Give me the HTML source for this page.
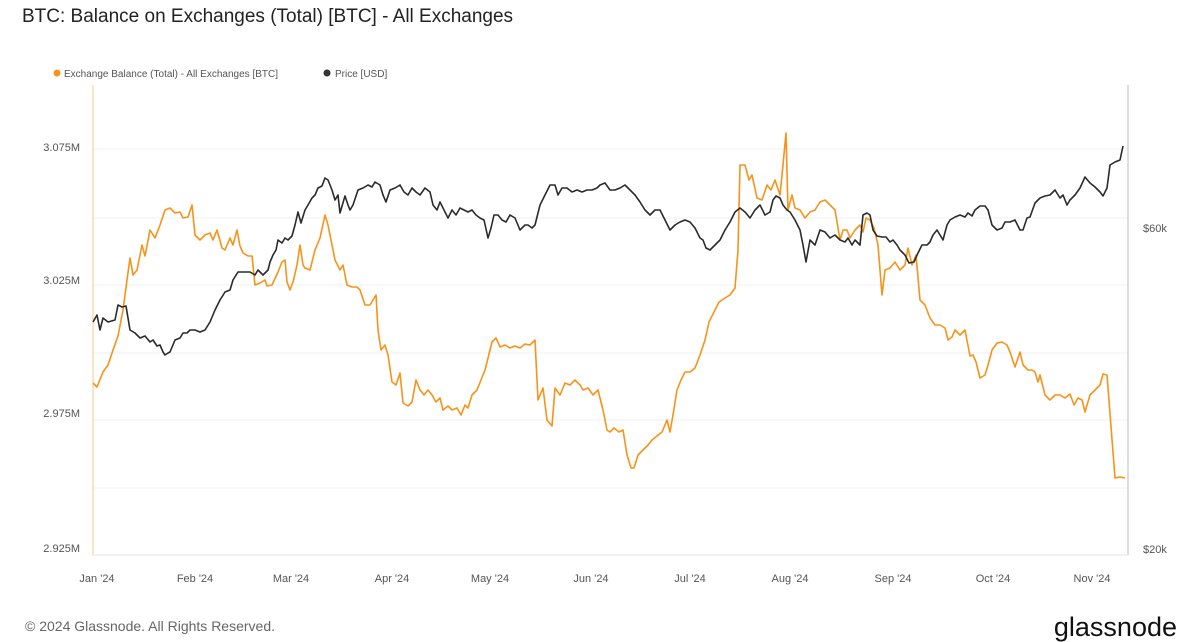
<!DOCTYPE html>
<html><head><meta charset="utf-8"><style>
html,body{margin:0;padding:0;background:#fff;width:1200px;height:642px;overflow:hidden;font-family:"Liberation Sans",sans-serif}
</style></head><body>
<svg width="1200" height="642" viewBox="0 0 1200 642" xmlns="http://www.w3.org/2000/svg" font-family="Liberation Sans, sans-serif">
<text x="22" y="22" font-size="19" fill="#222">BTC: Balance on Exchanges (Total) [BTC] - All Exchanges</text>
<circle cx="57" cy="73" r="3.5" fill="#f7931a"/>
<text x="64" y="77" font-size="10" fill="#555">Exchange Balance (Total) - All Exchanges [BTC]</text>
<circle cx="327" cy="73" r="3.5" fill="#333"/>
<text x="335" y="77" font-size="10" fill="#555">Price [USD]</text>
<g stroke="#f0f0f0" stroke-width="1">
<line x1="93" y1="149" x2="1128" y2="149"/><line x1="93" y1="218" x2="1128" y2="218"/>
<line x1="93" y1="285" x2="1128" y2="285"/><line x1="93" y1="353" x2="1128" y2="353"/>
<line x1="93" y1="420" x2="1128" y2="420"/><line x1="93" y1="488" x2="1128" y2="488"/>
</g>
<line x1="93" y1="85" x2="93" y2="555" stroke="#f7c98a" stroke-width="1"/>
<line x1="1128" y1="85" x2="1128" y2="555" stroke="#bbb" stroke-width="1"/>
<line x1="93" y1="555" x2="1128" y2="555" stroke="#e6e6e6" stroke-width="1"/>
<g font-size="11" fill="#555">
<text x="80" y="151" text-anchor="end">3.075M</text>
<text x="80" y="284" text-anchor="end">3.025M</text>
<text x="80" y="417" text-anchor="end">2.975M</text>
<text x="80" y="552" text-anchor="end">2.925M</text>
<text x="1143" y="232">$60k</text>
<text x="1143" y="553">$20k</text>
<g text-anchor="middle">
<text x="97" y="582">Jan '24</text><text x="195" y="582">Feb '24</text><text x="291" y="582">Mar '24</text>
<text x="392" y="582">Apr '24</text><text x="490" y="582">May '24</text><text x="591" y="582">Jun '24</text>
<text x="690" y="582">Jul '24</text><text x="790" y="582">Aug '24</text><text x="893" y="582">Sep '24</text>
<text x="993" y="582">Oct '24</text><text x="1092" y="582">Nov '24</text>
</g></g>
<polyline fill="none" stroke="#f7931a" stroke-width="1.6" stroke-linejoin="round" points="93,383 97,387 103,372 108,365 113,350 118,336 123,310 127,280 130,258 133,275 137,270 142,245 145,256 150,230 155,238 160,225 165,210 170,208 175,213 180,212 183,218 188,217 192,205 195,235 200,240 205,235 210,233 213,240 217,230 222,248 225,250 230,238 233,245 237,230 240,246 243,253 248,256 252,256 255,285 260,283 265,280 267,286 272,285 278,272 282,262 285,260 287,282 290,290 293,282 297,265 300,245 303,265 305,268 310,270 315,250 320,238 325,215 328,225 332,245 335,260 340,270 343,265 347,285 352,287 357,287 360,290 365,305 370,305 373,300 376,295 378,330 381,350 385,345 388,355 392,382 396,385 400,373 403,403 408,406 412,402 416,380 420,390 424,395 428,390 432,395 436,402 440,398 443,410 448,406 452,410 457,408 461,415 465,405 468,408 472,395 477,390 481,380 485,370 488,358 492,342 496,338 500,347 505,345 510,348 515,346 520,348 525,344 530,345 535,340 538,400 543,388 547,420 552,426 555,388 560,395 565,383 570,385 575,380 580,385 583,390 588,388 593,395 598,390 603,410 607,430 610,432 614,428 619,432 623,430 627,455 631,468 634,468 638,455 643,450 648,445 652,440 657,436 662,432 667,420 670,432 673,415 677,390 681,380 685,372 690,372 695,368 700,355 705,340 709,322 714,312 719,302 725,298 730,295 735,288 738,250 740,165 745,165 749,180 752,175 757,198 762,200 767,185 771,190 775,180 780,195 783,165 786,133 788,210 792,195 795,208 800,210 805,218 810,212 815,210 820,202 825,200 830,205 835,210 840,240 843,230 847,230 850,238 855,230 860,225 863,232 866,218 870,220 874,228 878,245 882,295 885,270 890,268 895,262 900,270 905,265 908,248 912,265 916,255 920,300 925,305 930,318 935,325 940,325 945,328 948,340 952,337 955,330 960,335 965,330 970,356 973,355 976,362 980,378 985,375 988,365 992,350 997,343 1002,342 1007,345 1010,352 1015,367 1020,352 1023,365 1028,370 1032,370 1035,372 1038,382 1040,375 1045,395 1050,400 1055,395 1060,395 1065,398 1070,394 1074,405 1078,398 1082,400 1085,412 1090,395 1095,390 1100,385 1103,374 1107,375 1115,478 1120,477 1125,478"/>
<polyline fill="none" stroke="#2b2b2b" stroke-width="1.6" stroke-linejoin="round" points="93,322 97,315 100,330 103,318 108,322 115,320 118,305 122,307 126,306 130,330 135,333 140,338 145,336 150,342 153,340 157,346 160,345 163,352 165,355 168,353 170,352 175,340 180,338 183,333 187,333 190,330 195,330 200,332 205,330 210,322 215,310 220,300 225,292 230,290 233,280 238,272 245,272 250,272 255,275 258,270 263,275 268,270 270,262 273,255 276,250 278,240 282,243 285,238 288,240 292,236 295,225 298,212 301,223 305,210 308,205 312,198 315,195 318,188 322,186 325,178 328,180 332,190 335,200 338,195 340,213 345,196 348,205 350,210 353,205 358,190 363,188 368,185 372,187 375,182 380,185 383,195 386,202 390,190 395,188 400,185 404,192 408,195 412,188 416,192 420,195 425,188 430,192 433,205 437,210 440,202 444,210 448,218 452,210 456,215 460,208 464,210 468,212 472,210 476,215 480,218 484,220 488,238 491,228 494,215 498,215 502,220 506,222 510,215 515,218 520,230 525,225 528,225 532,228 535,225 540,205 545,195 550,185 555,185 558,195 562,188 567,188 572,192 577,190 582,192 587,190 592,190 597,188 600,185 605,183 610,190 615,190 620,188 625,185 630,190 635,195 640,202 645,210 650,215 655,210 660,210 665,220 670,230 675,225 680,222 685,220 690,222 695,228 700,238 703,240 706,248 710,250 715,245 720,240 725,230 730,222 735,212 740,208 745,212 750,218 755,210 760,205 765,215 770,212 773,200 776,196 780,198 783,205 787,210 790,212 795,220 800,230 803,245 806,262 810,240 815,245 820,230 825,232 830,238 835,235 840,240 845,242 848,238 852,245 855,240 860,245 863,215 867,213 870,215 873,230 877,236 882,237 886,237 890,242 893,240 897,245 900,250 905,255 909,263 914,262 918,253 922,245 927,245 930,242 933,235 937,230 940,235 943,240 947,225 950,220 955,217 960,215 965,217 968,213 972,216 975,210 980,206 985,206 988,210 992,225 997,230 1002,228 1005,222 1010,222 1015,220 1020,230 1023,230 1027,218 1030,217 1035,203 1040,198 1045,196 1050,195 1055,190 1060,198 1063,195 1067,205 1070,200 1075,195 1080,188 1085,177 1090,183 1095,187 1100,192 1103,196 1107,188 1110,165 1115,162 1120,160 1123,146"/>
<text x="25" y="631" font-size="14" fill="#666">© 2024 Glassnode. All Rights Reserved.</text>
<text x="1177" y="636" font-size="27" fill="#111" text-anchor="end">glassnode</text>
</svg>
</body></html>
